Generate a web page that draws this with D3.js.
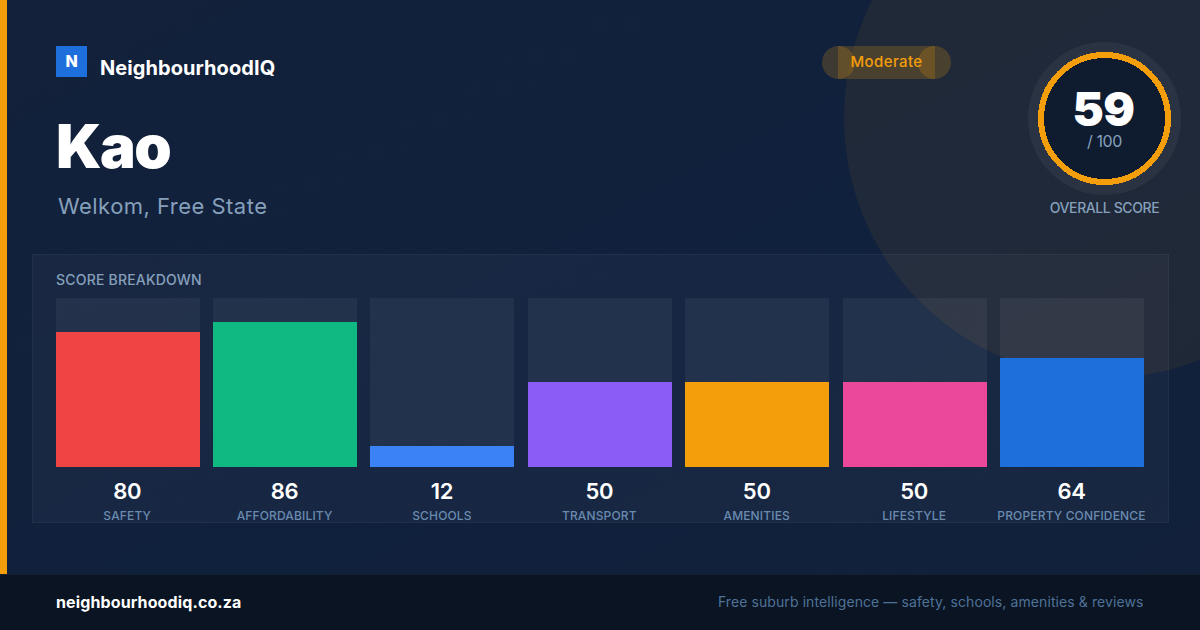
<!DOCTYPE html>
<html>
<head>
<meta charset="utf-8">
<script src="https://cdn.jsdelivr.net/npm/d3@7"></script>
<style>
    html, body { margin: 0; padding: 0; background: #0f2038; }
    svg { display: block; font-family: Inter, sans-serif; }
</style>
</head>
<body>
<div id="chart"></div>
<script>
const categories = ["SAFETY", "AFFORDABILITY", "SCHOOLS", "TRANSPORT", "AMENITIES", "LIFESTYLE", "PROPERTY CONFIDENCE"];
const scores = [80, 86, 12, 50, 50, 50, 64];
const barColors = ["#ef4444", "#10b981", "#3b82f6", "#8b5cf6", "#f59e0b", "#ec4899", "#1d6fdc"];
const overallScore = 59;
const overallMax = 100;

function init() {
    var w = 1200;
    var h = 630;
    var footerTop = 574;
    var trackTop = 298;
    var trackBottom = 467;

    var svg = d3.select("#chart").append("svg")
        .attr("width", w)
        .attr("height", h);

    var defs = svg.append("defs");

    var bg = defs.append("linearGradient")
        .attr("id", "bg")
        .attr("x1", 0).attr("y1", 0).attr("x2", 1).attr("y2", 1);
    bg.append("stop").attr("offset", "0%").attr("stop-color", "#13213a");
    bg.append("stop").attr("offset", "55%").attr("stop-color", "#10213d");
    bg.append("stop").attr("offset", "100%").attr("stop-color", "#12203a");

    // faint dot grid behind everything
    var dots = defs.append("pattern")
        .attr("id", "dots")
        .attr("patternUnits", "userSpaceOnUse")
        .attr("x", 8).attr("y", 8)
        .attr("width", 32).attr("height", 32);
    dots.append("circle")
        .attr("cx", 16).attr("cy", 16).attr("r", 1)
        .attr("fill", "#ffffff").attr("fill-opacity", 0.03);

    svg.append("rect").attr("width", w).attr("height", h).attr("fill", "url(#bg)");
    svg.append("rect").attr("width", w).attr("height", footerTop).attr("fill", "url(#dots)");

    // big background circle, under the panel
    svg.append("circle")
        .attr("cx", 1104).attr("cy", 118).attr("r", 260)
        .attr("fill", "#f59e0b").attr("fill-opacity", 0.07);

    svg.append("rect").attr("width", 7).attr("height", footerTop).attr("fill", "#f59e0b");

    // header
    svg.append("rect").attr("x", 56).attr("y", 46).attr("width", 31).attr("height", 31).attr("fill", "#1d6fdc");
    svg.append("text").attr("x", 71.5).attr("y", 67).attr("text-anchor", "middle")
        .attr("font-size", 16).attr("font-weight", 800).attr("fill", "#fff").text("N");
    svg.append("text").attr("x", 100).attr("y", 75)
        .attr("font-size", 20).attr("font-weight", 700).attr("letter-spacing", 0.07).attr("fill", "#fff").text("NeighbourhoodIQ");
    svg.append("text").attr("x", 56).attr("y", 168)
        .attr("font-size", 60).attr("font-weight", 900).attr("letter-spacing", -1.5).attr("fill", "#fff").text("Kao");
    svg.append("text").attr("x", 58).attr("y", 214)
        .attr("font-size", 22).attr("letter-spacing", 0.47).attr("fill", "#86a0bc").text("Welkom, Free State");

    // rating pill, the overlapping ends show through
    var pill = svg.append("g").attr("fill", "#f59e0b").attr("fill-opacity", 0.2);
    pill.append("rect").attr("x", 838).attr("y", 46).attr("width", 97).attr("height", 33);
    pill.append("circle").attr("cx", 838.5).attr("cy", 62.5).attr("r", 16.5);
    pill.append("circle").attr("cx", 934.5).attr("cy", 62.5).attr("r", 16.5);
    svg.append("text").attr("x", 886.5).attr("y", 67).attr("text-anchor", "middle")
        .attr("font-size", 15).attr("font-weight", 500).attr("letter-spacing", 0.4).attr("fill", "#f59e0b").text("Moderate");

    // overall score ring
    var ring = svg.append("g").attr("transform", "translate(1104.5,118.5)");
    ring.append("circle").attr("r", 76.5).attr("fill", "#ffffff").attr("fill-opacity", 0.05);
    ring.append("circle").attr("r", 63.5)
        .attr("fill", "#0f1b2e").attr("stroke", "#f59e0b").attr("stroke-width", 6)
        .attr("shape-rendering", "crispEdges");
    ring.append("text").attr("x", -1).attr("y", 7).attr("text-anchor", "middle")
        .attr("font-size", 47).attr("font-weight", 900).attr("letter-spacing", -0.5).attr("fill", "#fff").text(overallScore);
    ring.append("text").attr("y", 28.5).attr("text-anchor", "middle")
        .attr("font-size", 16).attr("letter-spacing", -0.4).attr("fill", "#86a0bc").text("/ " + overallMax);
    ring.append("text").attr("y", 94).attr("text-anchor", "middle")
        .attr("font-size", 14).attr("font-weight", 500).attr("letter-spacing", -0.4).attr("fill", "#86a0bc").text("OVERALL SCORE");

    // breakdown panel
    svg.append("rect")
        .attr("x", 32.5).attr("y", 254.5).attr("width", 1136).attr("height", 268)
        .attr("fill", "#ffffff").attr("fill-opacity", 0.03)
        .attr("stroke", "#ffffff").attr("stroke-opacity", 0.06);
    svg.append("text").attr("x", 56).attr("y", 285)
        .attr("font-size", 14).attr("font-weight", 500).attr("letter-spacing", 0.2).attr("fill", "#86a0bc").text("SCORE BREAKDOWN");

    var x = d3.scaleBand().domain(categories).range([55.7, 1143.98]).paddingInner(0.08502);
    // 168px scale sitting 1px above the track bottom, tops land on the same pixels as the reference
    var y = d3.scaleLinear().domain([0, 100]).range([trackBottom - 1, trackTop]);
    var color = d3.scaleOrdinal().domain(categories).range(barColors);

    var rows = categories.map((c, i) => ({ category: c, score: scores[i] }));

    svg.append("g").attr("shape-rendering", "crispEdges").selectAll("rect").data(rows).join("rect")
        .attr("x", d => x(d.category))
        .attr("y", y(100))
        .attr("width", x.bandwidth())
        .attr("height", trackBottom - y(100))
        .attr("fill", "#ffffff").attr("fill-opacity", 0.05);

    svg.append("g").attr("shape-rendering", "crispEdges").selectAll("rect").data(rows).join("rect")
        .attr("x", d => x(d.category))
        .attr("y", d => y(d.score))
        .attr("width", x.bandwidth())
        .attr("height", d => trackBottom - y(d.score))
        .attr("fill", d => color(d.category));

    svg.append("g").selectAll("text").data(rows).join("text")
        .attr("x", d => x(d.category) + x.bandwidth() / 2 - 0.5)
        .attr("y", 499)
        .attr("text-anchor", "middle")
        .attr("font-size", 22).attr("font-weight", 600).attr("letter-spacing", -0.3).attr("fill", "#fff")
        .text(d => d.score);

    svg.append("g").selectAll("text").data(rows).join("text")
        .attr("x", d => x(d.category) + x.bandwidth() / 2 - 0.5)
        .attr("y", 520)
        .attr("text-anchor", "middle")
        .attr("font-size", 12).attr("font-weight", 500).attr("letter-spacing", 0.15).attr("fill", "#6a8bb0")
        .text(d => d.category);

    // footer
    svg.append("rect").attr("y", footerTop).attr("width", w).attr("height", h - footerTop).attr("fill", "#0a1422");
    svg.append("rect").attr("y", footerTop).attr("width", w).attr("height", 1).attr("fill", "#ffffff").attr("fill-opacity", 0.05);
    svg.append("text").attr("x", 56).attr("y", 608)
        .attr("font-size", 16).attr("font-weight", 700).attr("letter-spacing", 0.12).attr("fill", "#fff").text("neighbourhoodiq.co.za");
    svg.append("text").attr("x", 1143.5).attr("y", 607).attr("text-anchor", "end")
        .attr("font-size", 14).attr("letter-spacing", 0.09).attr("fill", "#4f7298").text("Free suburb intelligence — safety, schools, amenities & reviews");
}

window.onload = init;
</script>
</body>
</html>
